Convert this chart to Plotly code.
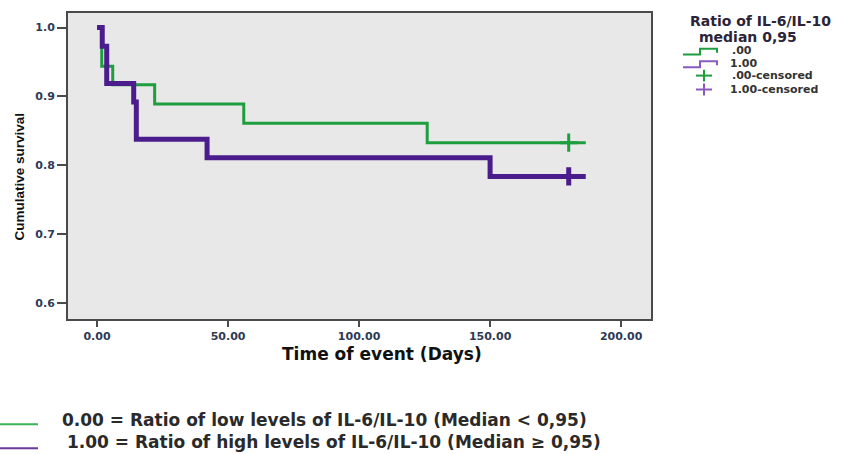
import plotly.graph_objects as go

# ---- data ----
low_times = [0, 1.8, 6, 22, 56, 126, 186.5]
low_surv = [1.0, 0.944, 0.917, 0.889, 0.861, 0.833, 0.833]
low_cens_t = [180]
low_cens_s = [0.833]

high_times = [0, 2, 3.7, 14, 15, 42, 150, 186.5]
high_surv = [1.0, 0.973, 0.919, 0.892, 0.838, 0.811, 0.784, 0.784]
high_cens_t = [180]
high_cens_s = [0.784]

x_ticks = [0, 50, 100, 150, 200]
y_ticks = [0.6, 0.7, 0.8, 0.9, 1.0]
y_tick_text = ["0.6", "0.7", "0.8", "0.9", "1.0"]

GREEN = "#1f9e3f"
PURPLE = "#4b1d8c"
GREEN_L = "#3cb55a"
PURPLE_L = "#8a5ac0"

W, H = 849, 454
L, R, T, B = 68, 651, 11, 319


def px(p):
    return (p - L) / (R - L)


def py(q):
    return (B - q) / (B - T)


fig = go.Figure()
fig.add_trace(go.Scatter(x=low_times, y=low_surv, mode="lines",
                         line=dict(color=GREEN, width=3, shape="hv"), showlegend=False))
fig.add_trace(go.Scatter(x=low_cens_t, y=low_cens_s, mode="markers",
                         marker=dict(symbol="cross-thin", size=13,
                                     line=dict(color=GREEN, width=3)), showlegend=False))
fig.add_trace(go.Scatter(x=high_times, y=high_surv, mode="lines",
                         line=dict(color=PURPLE, width=5, shape="hv"), showlegend=False))
fig.add_trace(go.Scatter(x=high_cens_t, y=high_cens_s, mode="markers",
                         marker=dict(symbol="cross-thin", size=13,
                                     line=dict(color=PURPLE, width=5)), showlegend=False))

tickfont = dict(family="DejaVu Sans", size=11, color="#2e3a56", weight="bold")

fig.update_layout(
    width=W, height=H, autosize=False,
    margin=dict(l=L, r=W - R, t=T, b=H - B),
    paper_bgcolor="white", plot_bgcolor="#e8e8e8",
    xaxis=dict(range=[-11.07, 211.4], tickvals=x_ticks, tickformat=".2f",
               showgrid=False, zeroline=False, showline=True, mirror=True,
               linecolor="#4a4a4a", linewidth=2, ticks="outside", ticklen=6,
               tickwidth=2, tickcolor="#4a4a4a", tickfont=tickfont),
    yaxis=dict(range=[0.577, 1.0212], tickvals=y_ticks, ticktext=y_tick_text,
               showgrid=False, zeroline=False, showline=True, mirror=True,
               linecolor="#4a4a4a", linewidth=2, ticks="outside", ticklen=9,
               tickwidth=2, tickcolor="#4a4a4a", tickfont=tickfont),
)

ann = []
# axis titles
ann.append(dict(x=px(19.5), y=py(175), xref="paper", yref="paper", text="<b>Cumulative survival</b>",
                textangle=-90, showarrow=False, xanchor="center", yanchor="middle",
                font=dict(family="Liberation Sans", size=13.5, color="#111")))
ann.append(dict(x=px(382), y=py(354), xref="paper", yref="paper", text="Time of event (Days)",
                showarrow=False, xanchor="center", yanchor="middle",
                font=dict(family="DejaVu Sans", size=17, color="#111", weight="bold")))
# legend title
ann.append(dict(x=px(688), y=py(19), xref="paper", yref="paper", text="Ratio of IL-6/IL-10",
                showarrow=False, xanchor="left", yanchor="middle",
                font=dict(family="DejaVu Sans", size=14, color="#2a2438", weight="bold")))
ann.append(dict(x=px(697), y=py(35), xref="paper", yref="paper", text="median 0,95",
                showarrow=False, xanchor="left", yanchor="middle",
                font=dict(family="DejaVu Sans", size=14, color="#2a2438", weight="bold")))
# legend items
items = [(".00", 730, 49), ("1.00", 728, 62), (".00-censored", 730, 74), ("1.00-censored", 728, 88)]
for txt, xx, yy in items:
    ann.append(dict(x=px(xx), y=py(yy), xref="paper", yref="paper", text=txt,
                    showarrow=False, xanchor="left", yanchor="middle",
                    font=dict(family="DejaVu Sans", size=11, color="#333", weight="bold")))
# bottom notes
ann.append(dict(x=px(60), y=py(421), xref="paper", yref="paper",
                text="0.00 = Ratio of low levels of IL-6/IL-10 (Median < 0,95)",
                showarrow=False, xanchor="left", yanchor="middle",
                font=dict(family="DejaVu Sans", size=17, color="#2a2a2a", weight="bold")))
ann.append(dict(x=px(65), y=py(443), xref="paper", yref="paper",
                text="1.00 = Ratio of high levels of IL-6/IL-10 (Median ≥ 0,95)",
                showarrow=False, xanchor="left", yanchor="middle",
                font=dict(family="DejaVu Sans", size=17, color="#2a2a2a", weight="bold")))
fig.update_layout(annotations=ann)

shapes = []


def step_icon(y_low, y_high, color):
    path = (f"M {px(683)} {py(y_low)} L {px(700)} {py(y_low)} L {px(700)} {py(y_high)} "
            f"L {px(717)} {py(y_high)} L {px(717)} {py(y_high + 4)}")
    return dict(type="path", xref="paper", yref="paper", path=path,
                line=dict(color=color, width=2))


shapes.append(step_icon(52.7, 47, GREEN))
shapes.append(step_icon(65.5, 59.5, PURPLE_L))
for cy, col in [(74, GREEN), (88, PURPLE_L)]:
    shapes.append(dict(type="line", xref="paper", yref="paper", x0=px(696), x1=px(712),
                       y0=py(cy), y1=py(cy), line=dict(color=col, width=2)))
    shapes.append(dict(type="line", xref="paper", yref="paper", x0=px(704), x1=px(704),
                       y0=py(cy - 6), y1=py(cy + 6), line=dict(color=col, width=2)))
shapes.append(dict(type="line", xref="paper", yref="paper", x0=px(0), x1=px(38),
                   y0=py(425), y1=py(425), line=dict(color=GREEN_L, width=2)))
shapes.append(dict(type="line", xref="paper", yref="paper", x0=px(0), x1=px(38),
                   y0=py(449), y1=py(449), line=dict(color="#6a3a9a", width=2)))
fig.update_layout(shapes=shapes)

fig.write_html("out.html", config={"displayModeBar": False},
               post_script="document.body.style.margin='0px';")
